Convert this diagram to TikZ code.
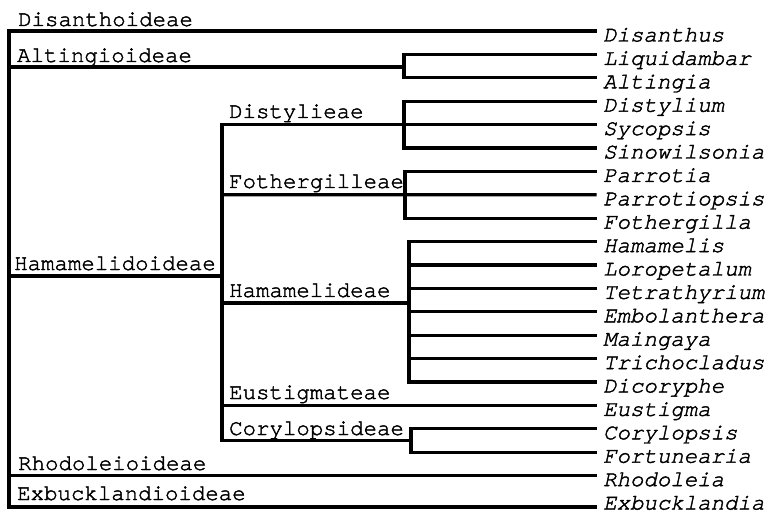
\documentclass[tikz,border=0pt]{standalone}
\usepackage{fontspec}
\setmonofont[FakeBold=1.8]{TeX Gyre Cursor}
\begin{document}
\begin{tikzpicture}[x=1pt,y=-1pt,
  br/.style={line width=3.2pt, line cap=rect},
  clade/.style={font=\fontsize{22.4}{26}\selectfont\ttfamily, anchor=base west, inner sep=0pt},
  taxon/.style={font=\fontsize{22.4}{26}\selectfont\ttfamily\itshape, anchor=base west, inner sep=0pt}]
\useasboundingbox (0,0) rectangle (766,513);
% leaves
\foreach \nm [count=\i from 0] in {Disanthus,Liquidambar,Altingia,Distylium,Sycopsis,Sinowilsonia,Parrotia,Parrotiopsis,Fothergilla,Hamamelis,Loropetalum,Tetrathyrium,Embolanthera,Maingaya,Trichocladus,Dicoryphe,Eustigma,Corylopsis,Fortunearia,Rhodoleia}{
  \pgfmathsetmacro\yy{31+23.4*\i}
  \coordinate (t\i) at (595,\yy);
  \node[taxon] (n\i) at (603,\yy+10.5) {\nm};
}
\coordinate (t20) at (595,507);
\node[taxon] (n20) at (603,509.5) {Exbucklandia};
% internal points
\coordinate (rt) at (9,31);
\coordinate (rb) at (9,507);
\coordinate (alt) at (404,67);
\coordinate (hmd) at (222,276);
\coordinate (dis) at (404,124.6);
\coordinate (fot) at (405,194.8);
\coordinate (ham) at (409,303);
\coordinate (cor) at (411,440.5);
% branches
\draw[br] (t0) -- (rt) -- (rb) -- (t20);
\draw[br] (rt |- alt) -- (alt);
\draw[br] (t1) -| (alt) |- (t2);
\draw[br] (rt |- hmd) -- (hmd);
\draw[br] (rt |- t19) -- (t19);
\draw[br] (hmd |- t4) -- (hmd |- cor);
\draw[br] (hmd |- t4) -- (t4);
\draw[br] (t3) -| (dis) |- (t5);
\draw[br] (hmd |- fot) -- (t7);
\draw[br] (t6) -| (fot) |- (t8);
\draw[br] (hmd |- ham) -- (ham);
\draw[br] (t9) -| (ham) |- (t15);
\foreach \k in {10,...,14}{\draw[br] (ham |- t\k) -- (t\k);}
\draw[br] (hmd |- t16) -- (t16);
\draw[br] (hmd |- cor) -- (cor);
\draw[br] (t17) -| (cor) |- (t18);
% clade labels
\node[clade] (l1) at (18,26) {Disanthoideae};
\node[clade] (l2) at (17,62) {Altingioideae};
\node[clade] (l3) at (14,270) {Hamamelidoideae};
\node[clade] (l4) at (229,118) {Distylieae};
\node[clade] (l5) at (229,188) {Fothergilleae};
\node[clade] (l6) at (229,297) {Hamamelideae};
\node[clade] (l7) at (229,399) {Eustigmateae};
\node[clade] (l8) at (229,435) {Corylopsideae};
\node[clade] (l9) at (18,470) {Rhodoleioideae};
\node[clade] (l10) at (17,500) {Exbucklandioideae};
\end{tikzpicture}
\end{document}
